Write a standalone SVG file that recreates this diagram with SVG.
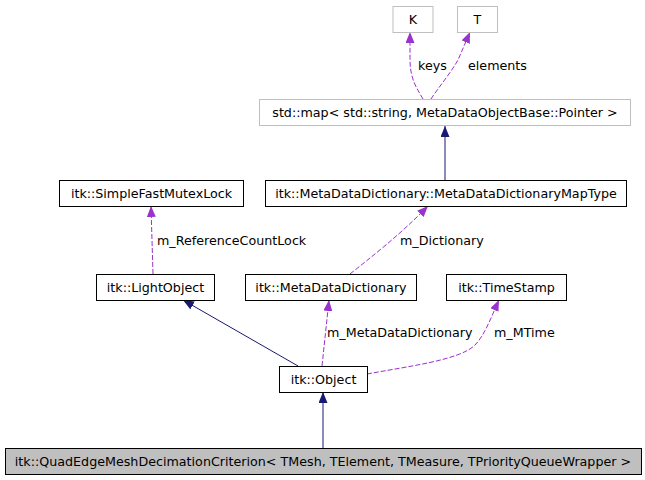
<svg xmlns="http://www.w3.org/2000/svg" width="645" height="480" viewBox="0 0 645 480">
<style>
text{font-family:"DejaVu Sans",sans-serif;font-size:12.7px;fill:#000}
.n rect{fill:#fff;stroke:#000;stroke-width:1}
.g rect{fill:#fff;stroke:#bfbfbf;stroke-width:1}
.c rect{fill:#bfbfbf;stroke:#000;stroke-width:1}
.n text,.g text,.c text{text-anchor:middle}
.inh{fill:none;stroke:#191970;stroke-width:1}
.use{fill:none;stroke:#9a32cd;stroke-width:1;stroke-dasharray:5,2}
</style>
<defs>
<marker id="an" markerWidth="11" markerHeight="9" refX="11" refY="4.5" orient="auto" markerUnits="userSpaceOnUse"><path d="M0,0L11,4.5L0,9z" fill="#191970"/></marker>
<marker id="ap" markerWidth="11" markerHeight="9" refX="11" refY="4.5" orient="auto" markerUnits="userSpaceOnUse"><path d="M0,0L11,4.5L0,9z" fill="#9a32cd"/></marker>
</defs>
<rect width="645" height="480" fill="#fff"/>
<g id="edges">
<path class="use" d="M423,99C418,90 410,80 410,60L410,32" marker-end="url(#ap)"/>
<text x="418" y="70">keys</text>
<path class="use" d="M431,99C438,88 450,74 458,60L470,32" marker-end="url(#ap)"/>
<text x="468" y="70">elements</text>
<path class="inh" d="M445,180L445,126" marker-end="url(#an)"/>
<path class="use" d="M153,274L151,206" marker-end="url(#ap)"/>
<text x="157" y="245">m_ReferenceCountLock</text>
<path class="use" d="M350,274C370,258 400,235 428,206" marker-end="url(#ap)"/>
<text x="400" y="245">m_Dictionary</text>
<path class="inh" d="M298,366L183,300" marker-end="url(#an)"/>
<path class="use" d="M322,366L329,300" marker-end="url(#ap)"/>
<text x="327" y="337">m_MetaDataDictionary</text>
<path class="use" d="M367,374C410,366 460,360 475,345C485,335 492,315 499,300" marker-end="url(#ap)"/>
<text x="494" y="337">m_MTime</text>
<path class="inh" d="M323,448L323,392" marker-end="url(#an)"/>
</g>
<g id="K" class="g"><rect x="393" y="6.5" width="40" height="26"/><text x="413" y="24">K</text></g>
<g id="T" class="g"><rect x="457.5" y="6.5" width="40" height="26"/><text x="477.5" y="24">T</text></g>
<g id="stdmap" class="g"><rect x="259.5" y="99.5" width="371" height="26"/><text x="445" y="117">std::map&lt; std::string, MetaDataObjectBase::Pointer &gt;</text></g>
<g id="SimpleFastMutexLock" class="n"><rect x="59.5" y="180.5" width="184" height="26"/><text x="151.5" y="198">itk::SimpleFastMutexLock</text></g>
<g id="MapType" class="n"><rect x="265.5" y="180.5" width="361" height="26"/><text x="446" y="198">itk::MetaDataDictionary::MetaDataDictionaryMapType</text></g>
<g id="LightObject" class="n"><rect x="96.5" y="274.5" width="118" height="26"/><text x="155.5" y="292">itk::LightObject</text></g>
<g id="MetaDataDictionary" class="n"><rect x="245.5" y="274.5" width="171" height="26"/><text x="331" y="292">itk::MetaDataDictionary</text></g>
<g id="TimeStamp" class="n"><rect x="446.5" y="274.5" width="120" height="26"/><text x="506.5" y="292">itk::TimeStamp</text></g>
<g id="Object" class="n"><rect x="279.5" y="366.5" width="88" height="26"/><text x="323.5" y="384">itk::Object</text></g>
<g id="Criterion" class="c"><rect x="5.5" y="448.5" width="636" height="26"/><text x="323" y="466">itk::QuadEdgeMeshDecimationCriterion&lt; TMesh, TElement, TMeasure, TPriorityQueueWrapper &gt;</text></g>
</svg>
